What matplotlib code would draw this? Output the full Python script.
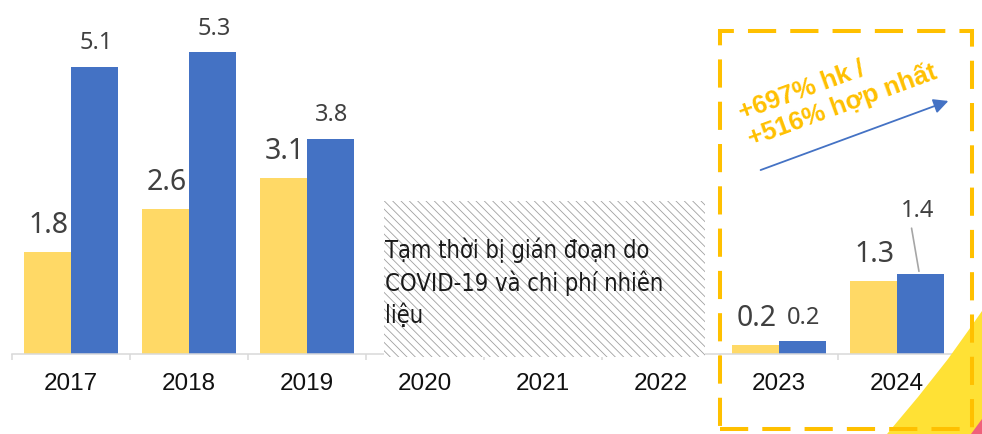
import matplotlib
matplotlib.use("Agg")
import matplotlib.pyplot as plt
import matplotlib.patches as patches
import matplotlib.font_manager as fm
import numpy as np

years = ["2017", "2018", "2019", "2020", "2021", "2022", "2023", "2024"]
hk = [1.8, 2.56, 3.1, None, None, None, 0.16, 1.28]
hop_nhat = [5.07, 5.33, 3.8, None, None, None, 0.23, 1.41]
gap_note = "Tạm thời bị gián đoạn do\nCOVID-19 và chi phí nhiên\nliệu"
growth_note = "+697% hk /\n+516% hợp nhất"

YELLOW = "#FFD966"
BLUE = "#4472C4"
GOLD = "#FFC000"
LABEL = "#404040"

plt.rcParams["hatch.linewidth"] = 0.6

# try to find a condensed face for the note in the hatched area
narrow = None
for f in fm.fontManager.ttflist:
    if f.style == "normal" and f.weight in (400, "normal", "regular") and \
            str(f.stretch) in ("condensed", "semi-condensed", "500", "300", "400") and \
            ("Condensed" in f.name or "Narrow" in f.name or str(f.stretch) in ("condensed", "semi-condensed")):
        narrow = fm.FontProperties(fname=f.fname)
        break
if narrow is None:
    narrow = fm.FontProperties(family="Liberation Sans")
narrow.set_size(17)

W, H = 982, 435
fig = plt.figure(figsize=(W / 100, H / 100), dpi=100)
ax = fig.add_axes([12 / W, 80 / H, 944 / W, 355 / H])

x = np.arange(len(years))
bw = 0.4
for i in range(len(years)):
    if hk[i] is None:
        continue
    ax.bar(x[i] - bw / 2, hk[i], bw, color=YELLOW, zorder=2)
    ax.bar(x[i] + bw / 2, hop_nhat[i], bw, color=BLUE, zorder=2)
    ax.annotate(f"{hk[i]:.1f}", (x[i] - bw / 2, hk[i]), xytext=(1, 14.5),
                textcoords="offset points", ha="center", va="baseline",
                fontsize=20.5, color=LABEL, family="Noto Sans")
    off = 42 if years[i] == "2024" else 13
    ax.annotate(f"{hop_nhat[i]:.1f}", (x[i] + bw / 2, hop_nhat[i]), xytext=(-2 if off > 20 else 1, off),
                textcoords="offset points", ha="center", va="baseline",
                fontsize=17, color=LABEL, family="Noto Sans")
    if off > 20:
        ax.annotate("", (x[i] + bw / 2 - 0.01, hop_nhat[i]), xytext=(-6, 35),
                    textcoords="offset points",
                    arrowprops=dict(arrowstyle="-", color="#A6A6A6", lw=1.2))

# hatched gap 2020-2022
ax.add_patch(patches.Rectangle((2.653, -0.05), 5.373 - 2.653, 2.75,
                               facecolor="white", edgecolor="#A0A0A0",
                               hatch="\\\\\\\\", linewidth=0, zorder=4, clip_on=False))
ax.text(2.66, 2.07, gap_note, fontproperties=narrow, color="#1A1A1A", ha="left", va="top",
        linespacing=1.36, zorder=5)

ax.set_xlim(-0.5, 7.5)
ax.set_ylim(0, 355 / 56.7)
for s in ["top", "right", "left"]:
    ax.spines[s].set_visible(False)
ax.spines["bottom"].set_color("#D9D9D9")
ax.spines["bottom"].set_linewidth(1.1)
ax.set_yticks([])
ax.set_xticks(x)
ax.set_xticklabels(years, fontsize=17.5, family="Liberation Sans", color="#111111")
ax.set_xticks(np.arange(-0.5, 8, 1), minor=True)
ax.tick_params(axis="x", which="major", length=0, pad=13)
ax.tick_params(axis="x", which="minor", length=4.5, width=1.1, color="#D9D9D9")

# decorative corner
corner = [(887, 435), (918, 398), (948, 360), (968, 332), (982, 312), (982, 435)]
fig.patches.append(patches.Polygon([(px / W, 1 - py / H) for px, py in corner],
                                   closed=True, transform=fig.transFigure,
                                   facecolor="#FFE135", edgecolor="none", zorder=1))
pink = [(971, 435), (982, 420), (982, 435)]
fig.patches.append(patches.Polygon([(px / W, 1 - py / H) for px, py in pink],
                                   closed=True, transform=fig.transFigure,
                                   facecolor="#F0607A", edgecolor="none", zorder=1))

# dashed highlight box
fig.patches.append(patches.Rectangle((720 / W, 1 - 430 / H), 252 / W, 398 / H,
                                     transform=fig.transFigure, fill=False,
                                     edgecolor=GOLD, linewidth=2.9,
                                     linestyle=(0, (7, 3.5)), zorder=10))

# growth arrow + note
fig.add_artist(patches.FancyArrowPatch((758 / W, 1 - 172 / H), (951 / W, 1 - 101 / H),
                                       transform=fig.transFigure, arrowstyle="-|>",
                                       mutation_scale=22, color=BLUE, lw=1.3))
fig.text(838 / W, 1 - 92 / H, growth_note, rotation=20, ha="center", va="center",
         multialignment="left", fontsize=18.5, fontweight="bold", color=GOLD,
         family="Liberation Sans", linespacing=1.15)

fig.savefig("out.png", dpi=100)
